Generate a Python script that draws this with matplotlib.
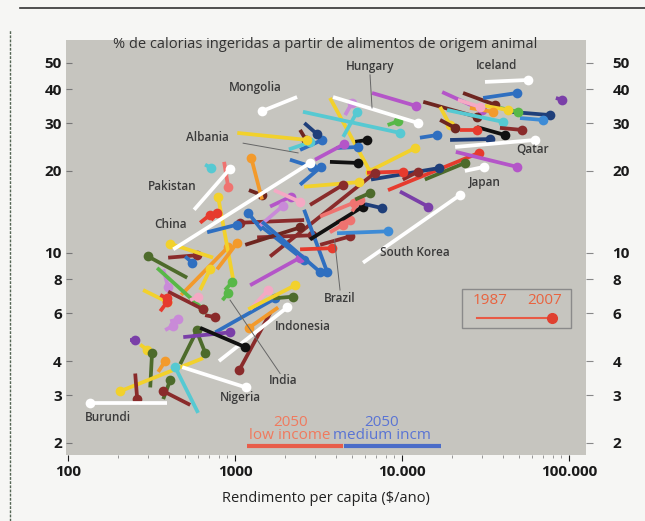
import matplotlib.pyplot as plt
from matplotlib.patches import Rectangle
from matplotlib.lines import Line2D
from matplotlib.ticker import NullFormatter, LogLocator

plt.rcParams['font.family'] = ['Open Sans', 'DejaVu Sans']

# named countries: income ($/ano) and % animal calories, 1987 -> 2007
named = ['Iceland', 'Mongolia', 'Hungary', 'Qatar', 'Japan', 'South Korea',
         'Pakistan', 'China', 'Indonesia', 'Nigeria', 'Burundi', 'Albania', 'India']
named_inc87 = [31400, 2350, 3860, 20800, 23800, 5840, 568, 426, 800, 482, 392, 1030, 617]
named_pct87 = [42.5, 37.4, 37.4, 24.5, 20.0, 9.2, 14.4, 10.3, 4.0, 3.8, 2.8, 27.6, 5.3]
named_inc07 = [56800, 1450, 12500, 62500, 31000, 22200, 933, 2810, 2050, 1160, 135, 2700, 1150]
named_pct07 = [43.2, 33.2, 30.0, 26.0, 20.7, 16.3, 20.4, 21.4, 6.3, 3.2, 2.8, 26.0, 4.5]
named_col = ['W'] * 11 + ['Y', 'K']

# label positions (income, %)
labels = named + ['Brazil']
lab_x = [37000, 1320, 6430, 60800, 31400, 11970, 420, 408, 2550, 1071, 174, 680, 1937, 4250]
lab_y = [49.0, 40.7, 48.3, 23.9, 18.1, 10.0, 17.6, 12.7, 5.34, 2.93, 2.49, 26.5, 3.38, 6.8]

# other (unlabelled) countries
inc87 = [6610, 3700, 6610, 4560, 2550, 4440, 2450, 3700, 5240, 2450, 4030, 19400, 17400,
         23200, 30600, 13400, 18600, 44400, 50900, 38600, 31400, 25500, 21600, 16900,
         16900, 28100, 38600, 22200, 12800, 8240, 21000, 13700, 83500, 9720, 6520, 10100,
         6170, 1210, 1620, 1355, 3230, 2590, 3230, 2590, 1280, 1450, 475, 973, 718, 1620,
         1710, 2590, 2450, 4030, 2810, 2450, 2810, 6000, 4080, 3700, 5020, 5240, 1150,
         1450, 1410, 760, 1230, 1690, 1200, 1230, 1450, 870, 840, 371, 516, 397, 502, 738,
         617, 680, 780, 617, 341, 281, 397, 356, 538, 235, 270, 310, 346, 643, 252, 600,
         371, 538, 469, 592, 489, 381, 408, 661, 1620, 1810, 356, 661, 859, 3010, 2130,
         2600, 2100, 8200]
pct87 = [38.7, 37.1, 20.2, 32.1, 33.0, 26.7, 28.3, 21.6, 25.6, 23.9, 24.3, 26.0, 39.0,
         38.7, 37.1, 35.9, 33.5, 33.0, 31.3, 34.1, 34.7, 34.1, 36.5, 34.4, 30.8, 29.0,
         28.8, 28.3, 26.5, 17.0, 23.5, 18.6, 37.1, 16.8, 18.6, 18.6, 19.7, 17.0, 9.7, 11.4,
         10.7, 13.2, 13.6, 14.4, 13.2, 15.7, 7.0, 8.0, 13.2, 14.8, 17.0, 17.5, 17.8, 13.0,
         15.0, 10.3, 11.2, 15.1, 11.8, 11.9, 14.2, 15.7, 10.7, 12.1, 12.6, 5.1, 6.2, 6.8,
         6.2, 7.6, 13.0, 7.3, 6.7, 8.7, 8.1, 9.6, 9.7, 9.6, 12.9, 11.9, 8.7, 7.3, 8.8, 7.3,
         7.2, 7.0, 6.7, 4.8, 4.6, 3.2, 3.65, 4.1, 3.6, 2.58, 2.9, 2.76, 3.9, 5.1, 4.9, 5.2,
         5.6, 5.9, 6.0, 6.3, 6.1, 21.1, 21.6, 22.0, 22.0, 30.0, 24.0, 29.5]
inc07 = [12100, 6430, 12000, 5020, 9720, 5380, 2660, 5460, 6170, 3320, 5460, 33600, 30100,
         36100, 48900, 28100, 40300, 76900, 69800, 49500, 43200, 35100, 29300, 19400,
         20800, 41400, 52400, 28100, 16200, 28900, 48900, 23800, 90800, 14300, 16700, 12500,
         10100, 1450, 6890, 2890, 4890, 1070, 5160, 3560, 2590, 1250, 908, 790, 780, 2160,
         2450, 5530, 3270, 4890, 4440, 3780, 5840, 7590, 8240, 4440, 5610, 6430, 2450,
         1200, 1940, 1740, 1580, 2220, 2290, 2450, 3230, 960, 908, 397, 301, 592, 553, 408,
         708, 1030, 1030, 708, 643, 392, 643, 392, 600, 252, 297, 318, 381, 205, 259, 437,
         408, 371, 592, 661, 933, 426, 456, 759, 1057, 1210, 392, 718, 908, 4500, 2900,
         3100, 2800, 9500]
pct07 = [34.7, 19.9, 24.3, 35.6, 27.6, 33.0, 26.0, 21.4, 26.0, 26.0, 24.5, 26.2, 33.5,
         35.0, 38.7, 31.6, 30.3, 32.1, 30.8, 33.0, 33.5, 33.0, 34.4, 29.5, 28.8, 27.1,
         28.3, 28.3, 27.1, 23.3, 20.7, 21.4, 36.5, 14.8, 20.5, 19.9, 19.9, 16.3, 19.7, 11.6,
         11.5, 12.9, 15.3, 8.5, 9.4, 22.3, 10.5, 16.1, 14.0, 16.1, 15.4, 18.2, 20.7, 13.2,
         17.8, 10.4, 14.8, 14.6, 12.0, 12.7, 15.7, 16.6, 12.4, 14.0, 14.9, 6.8, 7.3, 6.9,
         7.6, 9.6, 8.5, 7.8, 7.1, 7.5, 9.7, 9.8, 9.2, 10.8, 13.8, 12.7, 10.9, 8.7, 6.2, 6.6,
         6.2, 6.8, 6.9, 4.8, 4.4, 4.3, 4.0, 3.1, 2.9, 3.8, 3.4, 3.1, 5.2, 4.3, 5.1, 5.4,
         5.7, 5.8, 3.7, 5.3, 6.6, 20.5, 17.5, 25.1, 20.7, 27.3, 25.5, 30.5]
col = ['V', 'Y', 'Y', 'L', 'C', 'C', 'BR', 'K', 'K', 'B', 'B', 'N', 'V', 'BR', 'B', 'BR',
       'C', 'N', 'LB', 'G', 'Y', 'O', 'PK', 'Y', 'BR', 'K', 'M', 'R', 'B', 'R', 'V', 'OL',
       'P', 'P', 'N', 'M', 'R', 'BR', 'M', 'M', 'M', 'M', 'S', 'B', 'B', 'O', 'O', 'Y', 'R',
       'V', 'PK', 'Y', 'B', 'S', 'M', 'R', 'K', 'N', 'LB', 'S', 'S', 'OL', 'BR', 'B', 'L',
       'B', 'PK', 'OL', 'Y', 'V', 'B', 'G', 'G', 'L', 'OL', 'M', 'B', 'Y', 'R', 'B', 'O',
       'Y', 'G', 'Y', 'M', 'R', 'PK', 'P', 'Y', 'OL', 'O', 'Y', 'M', 'C', 'OL', 'M', 'OL',
       'OL', 'P', 'L', 'L', 'M', 'M', 'O', 'R', 'C', 'S', 'V', 'B', 'N', 'C', 'G']

palette = {'W': 'white', 'Y': '#f2d12c', 'O': '#f39a2b', 'R': '#e63b2e', 'S': '#ef7370',
           'M': '#8a2b2b', 'BR': '#6e2620', 'B': '#2f6fc0', 'LB': '#3d8bd6', 'N': '#1f3f7a',
           'C': '#56c9d2', 'G': '#58b848', 'OL': '#4d6b2b', 'V': '#b455c8', 'P': '#7a3fa8',
           'L': '#c98ad8', 'PK': '#f4a9c4', 'K': '#111111'}

# 2050 income bands
band_low = [1180, 4400]
band_med = [4500, 17000]

yticks = [2, 3, 4, 6, 8, 10, 20, 30, 40, 50]
xticks = [100, 1000, 10000, 100000]
xlabels = ['100', '1000', '10.000', '100.000']

fig = plt.figure(figsize=(6.45, 5.21), dpi=100)
fig.patch.set_facecolor('#f6f6f4')
ax = fig.add_axes([66 / 645, 1 - 455 / 521, 520 / 645, 415 / 521])
ax.set_facecolor('#c6c5bf')
ax.set_xscale('log')
ax.set_yscale('log')
for s in ax.spines.values():
    s.set_visible(False)


def seg(x0, y0, x1, y1, c):
    ax.plot([x0, x1], [y0, y1], color=c, lw=2.7, solid_capstyle='butt', zorder=2)
    ax.plot([x1], [y1], 'o', color=c, ms=7, mec='none', zorder=2)


for i in range(len(inc87)):
    seg(inc87[i], pct87[i], inc07[i], pct07[i], palette[col[i]])
for i in range(len(named)):
    seg(named_inc87[i], named_pct87[i], named_inc07[i], named_pct07[i], palette[named_col[i]])

for i, n in enumerate(labels):
    ax.text(lab_x[i], lab_y[i], n, ha='center', va='center', fontsize=8.5,
            weight='semibold', color='#3a3a3a', zorder=4)

# leader lines
for (xa, ya, xb, yb) in [(6430, 45.1, 6610, 34.1), (1117, 25.3, 2383, 23.3),
                         (4250, 7.3, 3940, 11.2), (1860, 3.6, 933, 6.7)]:
    ax.plot([xa, xb], [ya, yb], color='#666666', lw=0.7, zorder=3)

# 2050 bands
ax.plot(band_low, [1.95, 1.95], color='#e85d4a', lw=3, solid_capstyle='butt')
ax.plot(band_med, [1.95, 1.95], color='#4a6cc8', lw=3, solid_capstyle='butt')
ax.text(2134, 2.0, '2050\nlow income', ha='center', va='bottom', fontsize=11,
        color='#f07a5e', linespacing=0.85)
ax.text(7590, 2.0, '2050\nmedium incm', ha='center', va='bottom', fontsize=11,
        color='#5a74d4', linespacing=0.85)

# legend box
ax.add_patch(Rectangle((0.7615, 0.306), 0.2095, 0.094, transform=ax.transAxes,
                       fill=False, ec='#8a8a8a', lw=1))
ax.text(0.815, 0.373, '1987', transform=ax.transAxes, ha='center', va='center',
        fontsize=11, color='#e9633f')
ax.text(0.921, 0.373, '2007', transform=ax.transAxes, ha='center', va='center',
        fontsize=11, color='#e9633f')
ax.plot([0.79, 0.935], [0.33, 0.33], transform=ax.transAxes, color='#e85a45', lw=1.5)
ax.plot([0.935], [0.33], 'o', transform=ax.transAxes, color='#e04030', ms=7)

ax.text(0.498, 0.988, '% de calorias ingeridas a partir de alimentos de origem animal',
        transform=ax.transAxes, ha='center', va='center', fontsize=10.5, color='#333333')

ax.set_xlim(97, 126500)
ax.set_ylim(1.806, 60.6)
ax.set_xticks(xticks)
ax.set_xticklabels(xlabels)
ax.xaxis.set_minor_locator(LogLocator(base=10, subs=range(2, 10)))
ax.xaxis.set_minor_formatter(NullFormatter())
ax.set_yticks(yticks)
ax.set_yticklabels([str(t) for t in yticks])
ax.yaxis.set_minor_formatter(NullFormatter())
ax.yaxis.set_minor_locator(LogLocator(base=10, subs=[]))
ax.tick_params(axis='both', which='major', labelsize=11, colors='#1a1a1a', length=4,
               width=0.8, pad=3)
ax.tick_params(axis='x', which='minor', length=2.5, color='#888888')
ax.tick_params(axis='y', direction='in', color='#777777')
for lbl in ax.get_xticklabels() + ax.get_yticklabels():
    lbl.set_fontweight('bold')

ax2 = ax.twinx()
ax2.set_yscale('log')
ax2.set_ylim(ax.get_ylim())
ax2.set_yticks(yticks)
ax2.set_yticklabels([str(t) for t in yticks])
ax2.yaxis.set_minor_formatter(NullFormatter())
ax2.yaxis.set_minor_locator(LogLocator(base=10, subs=[]))
for s in ax2.spines.values():
    s.set_visible(False)
ax2.tick_params(axis='y', labelsize=11, colors='#1a1a1a', length=5, width=0.8, pad=14)
for lbl in ax2.get_yticklabels():
    lbl.set_fontweight('bold')
    lbl.set_color('#1a1a1a')
ax2.tick_params(axis='y', color='#888888')

ax.set_xlabel('Rendimento per capita ($/ano)', fontsize=10.5, color='#222222', labelpad=9)

# page frame
fig.add_artist(Line2D([20 / 645, 1], [1 - 8 / 521, 1 - 8 / 521], color='#333333', lw=1.2))
fig.add_artist(Line2D([10 / 645, 10 / 645], [0, 1 - 30 / 521], color='#556655', lw=1,
                      ls=(0, (2, 1))))

fig.savefig('out.png', dpi=100, facecolor=fig.get_facecolor())
